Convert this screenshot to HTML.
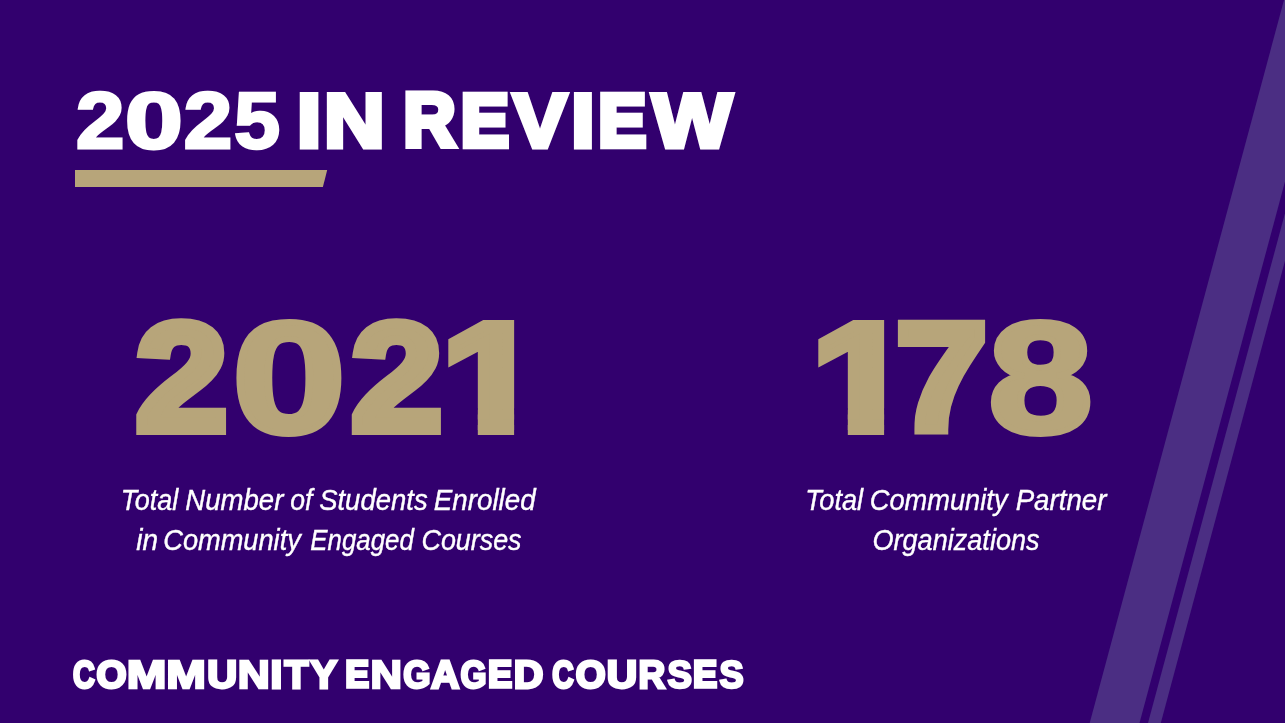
<!DOCTYPE html>
<html lang="en">
<head>
<meta charset="utf-8">
<title>2025 in Review - Community Engaged Courses</title>
<style>
html,body{margin:0;padding:0;background:#32006e;}
body{width:1285px;height:723px;overflow:hidden;position:relative;}
svg{position:absolute;left:0;top:0;display:block;}
text{font-family:"Liberation Sans",sans-serif;}
.h{font-weight:700;fill:#fff;stroke:#fff;stroke-linejoin:miter;}
.n{font-weight:700;fill:#b7a57a;stroke:#b7a57a;stroke-linejoin:miter;}
.s{font-style:italic;font-weight:400;fill:#fff;stroke:#fff;}
</style>
</head>
<body>
<svg width="1285" height="723" viewBox="0 0 1285 723">
<defs>
<clipPath id="c-n1"><path clip-rule="evenodd" d="M0 0H1285V723H0ZM445.34 408.38H477.81V436.9H445.34ZM514.1 408.38H544.3V436.9H514.1Z"/></clipPath>
<clipPath id="c-n2"><path clip-rule="evenodd" d="M0 0H1285V723H0ZM815.34 408.38H847.81V436.9H815.34ZM884.1 408.38H914.3V436.9H884.1Z"/></clipPath>
</defs>
<rect width="1285" height="723" fill="#32006e"/>
<polygon points="1284,0 1333.8,0 1139.5,723 1089.7,723" fill="#4b2e83"/>
<polygon points="1342.3,0 1355.1,0 1160.8,723 1148,723" fill="#4b2e83"/>
<polygon points="75,170 327.2,170 322.9,187 75,187" fill="#b7a57a"/>
<text aria-label="2025 IN REVIEW" class="h" y="146.7" font-size="76.6" stroke-width="5" xml:space="preserve"><tspan x="75.93" y="147.7" font-size="79.51" stroke-width="3" textLength="48.35" lengthAdjust="spacingAndGlyphs">2</tspan><tspan x="125.08" y="147.7" font-size="79.51" stroke-width="3" textLength="57.84" lengthAdjust="spacingAndGlyphs">0</tspan><tspan x="183.69" y="147.7" font-size="79.51" stroke-width="3" textLength="48.43" lengthAdjust="spacingAndGlyphs">2</tspan><tspan x="233.96" y="147.9" font-size="80.09" stroke-width="2.6" textLength="46.22" lengthAdjust="spacingAndGlyphs">5</tspan> <tspan x="296.68" y="146.7" textLength="24.61" lengthAdjust="spacingAndGlyphs">I</tspan><tspan x="323.9" y="146.7" textLength="60.75" lengthAdjust="spacingAndGlyphs">N</tspan> <tspan x="403.39" y="146.2" font-size="75.15" stroke-width="6" textLength="52.04" lengthAdjust="spacingAndGlyphs">R</tspan><tspan x="460.97" y="146" font-size="74.57" stroke-width="6.4" textLength="47.72" lengthAdjust="spacingAndGlyphs">E</tspan><tspan x="513.01" y="146.7" textLength="53.87" lengthAdjust="spacingAndGlyphs">V</tspan><tspan x="570.99" y="146.7" textLength="23.81" lengthAdjust="spacingAndGlyphs">I</tspan><tspan x="598.48" y="146" font-size="74.57" stroke-width="6.4" textLength="47.52" lengthAdjust="spacingAndGlyphs">E</tspan><tspan x="652.16" y="146.7" textLength="79.76" lengthAdjust="spacingAndGlyphs">W</tspan></text>
<text aria-label="2021" class="n" y="429.9" font-size="152.04" stroke-width="10" clip-path="url(#c-n1)" xml:space="preserve"><tspan x="135.98" y="429.9" textLength="91.2" lengthAdjust="spacingAndGlyphs">2</tspan><tspan x="232.37" y="431.9" font-size="157.85" stroke-width="6" textLength="113.57" lengthAdjust="spacingAndGlyphs">0</tspan><tspan x="351.59" y="429.9" textLength="90.59" lengthAdjust="spacingAndGlyphs">2</tspan><tspan x="441.96" y="429.9" textLength="99.44" lengthAdjust="spacingAndGlyphs">1</tspan></text>
<text aria-label="Total Number of Students Enrolled" class="s" y="509.8" font-size="29.5" stroke-width="0.4" xml:space="preserve"><tspan x="120.75" textLength="57.49" lengthAdjust="spacingAndGlyphs">Total</tspan> <tspan x="185.34" textLength="98.01" lengthAdjust="spacingAndGlyphs">Number</tspan> <tspan x="290.17" textLength="22.17" lengthAdjust="spacingAndGlyphs">of</tspan> <tspan x="319.15" textLength="108.52" lengthAdjust="spacingAndGlyphs">Students</tspan> <tspan x="433.84" textLength="101.75" lengthAdjust="spacingAndGlyphs">Enrolled</tspan></text>
<text aria-label="in Community Engaged Courses" class="s" y="550" font-size="29.5" stroke-width="0.4" xml:space="preserve"><tspan x="136.26" textLength="21.79" lengthAdjust="spacingAndGlyphs">in</tspan> <tspan x="163.31" textLength="137.5" lengthAdjust="spacingAndGlyphs">Community</tspan> <tspan x="310.37" textLength="103.47" lengthAdjust="spacingAndGlyphs">Engaged</tspan> <tspan x="421.48" textLength="100.09" lengthAdjust="spacingAndGlyphs">Courses</tspan></text>
<text aria-label="178" class="n" y="429.9" font-size="152.04" stroke-width="10" clip-path="url(#c-n2)" xml:space="preserve"><tspan x="811.96" y="429.9" textLength="99.44" lengthAdjust="spacingAndGlyphs">1</tspan><tspan x="896.39" y="429.9" textLength="90.63" lengthAdjust="spacingAndGlyphs">7</tspan><tspan x="988.42" y="431.9" font-size="157.85" stroke-width="6" textLength="104.1" lengthAdjust="spacingAndGlyphs">8</tspan></text>
<text aria-label="Total Community Partner" class="s" y="509.8" font-size="29.5" stroke-width="0.4" xml:space="preserve"><tspan x="805.2" textLength="57.9" lengthAdjust="spacingAndGlyphs">Total</tspan> <tspan x="869.81" textLength="137.7" lengthAdjust="spacingAndGlyphs">Community</tspan> <tspan x="1015.64" textLength="90.83" lengthAdjust="spacingAndGlyphs">Partner</tspan></text>
<text aria-label="Organizations" class="s" y="550" font-size="29.5" stroke-width="0.4" xml:space="preserve"><tspan x="872.47" textLength="167.12" lengthAdjust="spacingAndGlyphs">Organizations</tspan></text>
<text aria-label="COMMUNITY ENGAGED COURSES" class="h" y="687.6" font-size="38.81" stroke-width="2.8" xml:space="preserve"><tspan x="72.97" y="687.5" font-size="38.52" stroke-width="3" textLength="21.73" lengthAdjust="spacingAndGlyphs">C</tspan><tspan x="96.6" y="687.5" font-size="38.52" stroke-width="3" textLength="30.02" lengthAdjust="spacingAndGlyphs">O</tspan><tspan x="126.69" y="687.8" font-size="39.39" stroke-width="2.4" textLength="39.65" lengthAdjust="spacingAndGlyphs">M</tspan><tspan x="166.19" y="687.8" font-size="39.39" stroke-width="2.4" textLength="39.65" lengthAdjust="spacingAndGlyphs">M</tspan><tspan x="207.35" y="687.6" textLength="29.9" lengthAdjust="spacingAndGlyphs">U</tspan><tspan x="237.81" y="687.8" font-size="39.39" stroke-width="2.4" textLength="32.01" lengthAdjust="spacingAndGlyphs">N</tspan><tspan x="270.49" y="687.6" textLength="11.8" lengthAdjust="spacingAndGlyphs">I</tspan><tspan x="284.51" y="687.6" textLength="23.84" lengthAdjust="spacingAndGlyphs">T</tspan><tspan x="310.55" y="687.6" textLength="25.85" lengthAdjust="spacingAndGlyphs">Y</tspan> <tspan x="345.5" y="687.2" font-size="37.65" stroke-width="3.6" textLength="23.33" lengthAdjust="spacingAndGlyphs">E</tspan><tspan x="370.55" y="687.8" font-size="39.39" stroke-width="2.4" textLength="31.47" lengthAdjust="spacingAndGlyphs">N</tspan><tspan x="403.31" y="687.6" textLength="27.27" lengthAdjust="spacingAndGlyphs">G</tspan><tspan x="431.01" y="687.6" textLength="28.4" lengthAdjust="spacingAndGlyphs">A</tspan><tspan x="460.47" y="687.6" textLength="26.02" lengthAdjust="spacingAndGlyphs">G</tspan><tspan x="488.34" y="687.2" font-size="37.65" stroke-width="3.6" textLength="23.64" lengthAdjust="spacingAndGlyphs">E</tspan><tspan x="513.68" y="687.6" textLength="29.62" lengthAdjust="spacingAndGlyphs">D</tspan> <tspan x="552.32" y="687.5" font-size="38.52" stroke-width="3" textLength="21.38" lengthAdjust="spacingAndGlyphs">C</tspan><tspan x="575.8" y="687.5" font-size="38.52" stroke-width="3" textLength="29.82" lengthAdjust="spacingAndGlyphs">O</tspan><tspan x="606.77" y="687.6" textLength="30.43" lengthAdjust="spacingAndGlyphs">U</tspan><tspan x="638.5" y="687.6" textLength="26.75" lengthAdjust="spacingAndGlyphs">R</tspan><tspan x="667.47" y="687.7" font-size="39.1" stroke-width="2.6" textLength="24.44" lengthAdjust="spacingAndGlyphs">S</tspan><tspan x="693.34" y="687.2" font-size="37.65" stroke-width="3.6" textLength="23.64" lengthAdjust="spacingAndGlyphs">E</tspan><tspan x="719.42" y="687.7" font-size="39.1" stroke-width="2.6" textLength="24.14" lengthAdjust="spacingAndGlyphs">S</tspan></text>
</svg>
</body>
</html>
